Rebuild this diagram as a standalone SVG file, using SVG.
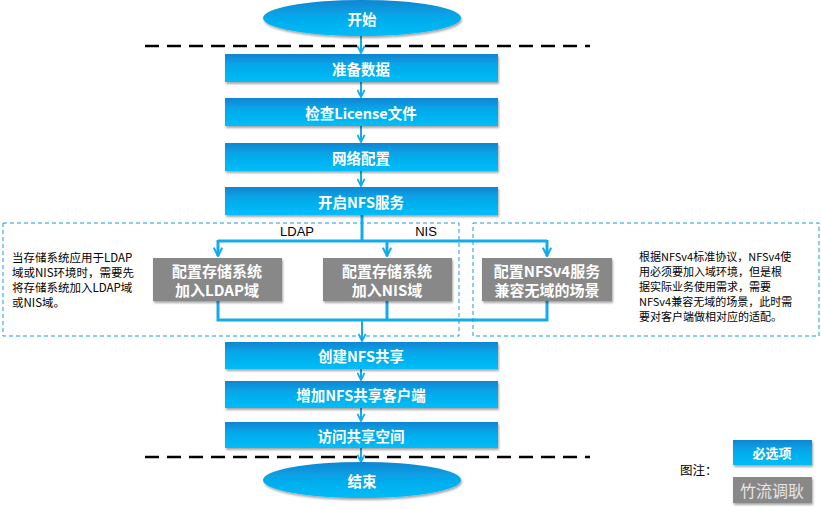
<svg xmlns="http://www.w3.org/2000/svg" width="821" height="509" viewBox="0 0 821 509">
<style>
.bt{font-family:"Noto Sans CJK SC","Liberation Sans",sans-serif;font-weight:bold;fill:#fff;font-size:14.5px;text-anchor:middle;dominant-baseline:central}
.gt{font-family:"Noto Sans CJK SC","Liberation Sans",sans-serif;font-weight:bold;fill:#fff;font-size:15px;text-anchor:middle}
.nt{font-family:"Noto Sans CJK SC","Liberation Sans",sans-serif;fill:#000;font-size:11px}
.lbl{font-family:"Liberation Sans","Noto Sans CJK SC",sans-serif;fill:#000;font-size:13px;text-anchor:middle}
.box{fill:url(#bg);filter:url(#sh)}
.gbox{fill:#888;filter:url(#sh)}
.ln{stroke:#14abec;stroke-width:2;fill:none}
.ln3{stroke:#14abec;stroke-width:3;fill:none}
.dash{stroke:#000;stroke-width:2.5;stroke-dasharray:14 8}
.bd{fill:none;stroke:#1a9be0;stroke-width:1;stroke-dasharray:4 3}
</style>
<defs>
<linearGradient id="bg" x1="0" y1="0" x2="0" y2="1">
<stop offset="0" stop-color="#0a86d2"/>
<stop offset="0.45" stop-color="#06aaeb"/>
<stop offset="1" stop-color="#00bdf8"/>
</linearGradient>
<linearGradient id="eg" x1="0" y1="0" x2="0" y2="1">
<stop offset="0" stop-color="#0a86d2"/>
<stop offset="0.5" stop-color="#06aaeb"/>
<stop offset="1" stop-color="#00bdf8"/>
</linearGradient>
<filter id="sh" x="-10%" y="-20%" width="120%" height="150%">
<feDropShadow dx="1" dy="2" stdDeviation="1.2" flood-color="#000" flood-opacity="0.35"/>
</filter>
<marker id="ar" viewBox="0 0 10 10" refX="9" refY="5" markerWidth="4.5" markerHeight="4.5" orient="auto" markerUnits="strokeWidth">
<path d="M1,1 L9,5 L1,9" fill="none" stroke="#14abec" stroke-width="2"/>
</marker>
<marker id="ar3" viewBox="0 0 10 10" refX="9" refY="5" markerWidth="3.5" markerHeight="3.5" orient="auto" markerUnits="strokeWidth">
<path d="M1,1 L9,5 L1,9" fill="none" stroke="#14abec" stroke-width="2"/>
</marker>
</defs>

<g id="dividers">
<line class="dash" x1="145" y1="46" x2="590" y2="46"/>
<line class="dash" x1="145" y1="457" x2="590" y2="457"/>
<rect class="bd" x="3" y="223" width="456" height="113"/>
<rect class="bd" x="473" y="223" width="346" height="113"/>
</g>

<g id="connectors">
<line class="ln" x1="361" y1="36" x2="361" y2="53" marker-end="url(#ar)"/>
<line class="ln" x1="361" y1="82" x2="361" y2="97" marker-end="url(#ar)"/>
<line class="ln" x1="361" y1="126" x2="361" y2="142" marker-end="url(#ar)"/>
<line class="ln" x1="361" y1="171" x2="361" y2="186" marker-end="url(#ar)"/>
<path class="ln3" d="M362,215 V241 M218,241 H547"/>
<line class="ln3" x1="218" y1="240" x2="218" y2="256" marker-end="url(#ar3)"/>
<line class="ln3" x1="387" y1="240" x2="387" y2="256" marker-end="url(#ar3)"/>
<line class="ln3" x1="547" y1="240" x2="547" y2="256" marker-end="url(#ar3)"/>
<path class="ln3" d="M218,301 V320 H547 V301 M387,301 V320"/>
<line class="ln" x1="362" y1="320" x2="362" y2="341" marker-end="url(#ar)"/>
<line class="ln" x1="361" y1="369" x2="361" y2="380" marker-end="url(#ar)"/>
<line class="ln" x1="361" y1="408" x2="361" y2="421" marker-end="url(#ar)"/>
<line class="ln" x1="361" y1="448" x2="361" y2="462" marker-end="url(#ar)"/>
<text class="lbl" x="297" y="236">LDAP</text>
<text class="lbl" x="426" y="236">NIS</text>
</g>

<g id="start">
<ellipse cx="362" cy="18" rx="99" ry="18" fill="url(#eg)" filter="url(#sh)"/>
<text class="bt" x="362" y="18">开始</text>
</g>
<g id="n1"><rect class="box" x="225" y="54" width="273" height="28"/><text class="bt" x="361" y="68">准备数据</text></g>
<g id="n2"><rect class="box" x="225" y="98" width="273" height="28"/><text class="bt" x="361" y="112">检查License文件</text></g>
<g id="n3"><rect class="box" x="225" y="143" width="273" height="28"/><text class="bt" x="361" y="157">网络配置</text></g>
<g id="n4"><rect class="box" x="225" y="187" width="273" height="28"/><text class="bt" x="361" y="201">开启NFS服务</text></g>

<g id="ldap"><rect class="gbox" x="153" y="258" width="129" height="43"/>
<text class="gt" x="217" y="277">配置存储系统</text><text class="gt" x="217" y="296">加入LDAP域</text></g>
<g id="nis"><rect class="gbox" x="323" y="258" width="129" height="43"/>
<text class="gt" x="387" y="277">配置存储系统</text><text class="gt" x="387" y="296">加入NIS域</text></g>
<g id="nfsv4"><rect class="gbox" x="482" y="258" width="130" height="43"/>
<text class="gt" x="547" y="277">配置NFSv4服务</text><text class="gt" x="547" y="296">兼容无域的场景</text></g>

<g id="note-left">
<text class="nt" x="12" y="262" style="font-size:11.5px">当存储系统应用于LDAP</text>
<text class="nt" x="12" y="277" style="font-size:11.5px">域或NIS环境时，需要先</text>
<text class="nt" x="12" y="292" style="font-size:11.5px">将存储系统加入LDAP域</text>
<text class="nt" x="12" y="307" style="font-size:11.5px">或NIS域。</text>
</g>
<g id="note-right">
<text class="nt" x="639" y="261">根据NFSv4标准协议，NFSv4使</text>
<text class="nt" x="639" y="276">用必须要加入域环境，但是根</text>
<text class="nt" x="639" y="291">据实际业务使用需求，需要</text>
<text class="nt" x="639" y="306">NFSv4兼容无域的场景，此时需</text>
<text class="nt" x="639" y="321">要对客户端做相对应的适配。</text>
</g>

<g id="n5"><rect class="box" x="225" y="342" width="273" height="27"/><text class="bt" x="361" y="355">创建NFS共享</text></g>
<g id="n6"><rect class="box" x="225" y="381" width="273" height="27"/><text class="bt" x="361" y="394">增加NFS共享客户端</text></g>
<g id="n7"><rect class="box" x="225" y="422" width="273" height="26"/><text class="bt" x="361" y="435">访问共享空间</text></g>

<g id="end">
<ellipse cx="362" cy="480" rx="99" ry="18" fill="url(#eg)" filter="url(#sh)"/>
<text class="bt" x="362" y="480">结束</text>
</g>

<g id="legend">
<text class="nt" x="680" y="475" style="font-size:12.5px">图注：</text>
<rect class="box" x="733" y="440" width="79" height="25"/>
<text class="bt" x="772" y="452" style="font-size:13px">必选项</text>
<rect class="gbox" x="733" y="477" width="79" height="26"/>
<text x="772" y="497" style="font-family:'Noto Sans CJK SC',sans-serif;font-size:16px;fill:#e6e6e6;text-anchor:middle">竹流调耿</text>
</g>
</svg>
